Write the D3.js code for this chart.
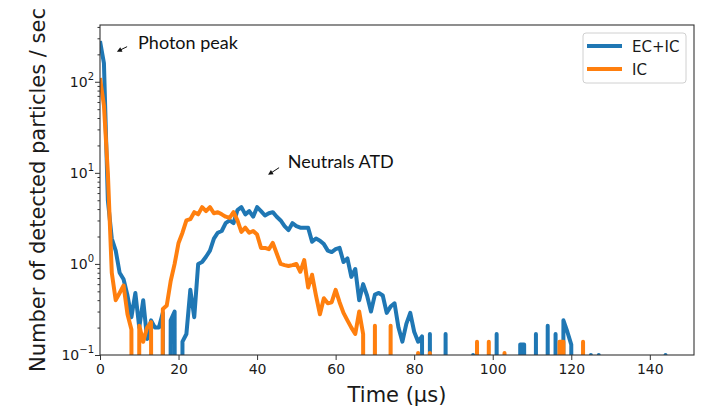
<!DOCTYPE html>
<html>
<head>
<meta charset="utf-8">
<script src="https://cdn.jsdelivr.net/npm/d3@7"></script>
<style>
  body { margin: 0; background: #fff; }
  svg { display: block; }
  .tick text { font-family: "DejaVu Sans", sans-serif; font-size: 14px; fill: #1a1a1a; }
  .axis path, .axis line { stroke: #333; }
</style>
</head>
<body>
<div class="graph-container"></div>
<script>
// time bins (µs): first bin and bin width
var binStart = 0;
var binWidth = 1;

// counts per second, one value per 1 µs bin (0 = nothing detected)
var ecIc = [
    280, 160, 5, 1.9, 1.4, 0.8, 0.68, 0.45, 0.26, 0.48,
    0.2, 0.4, 0.15, 0.24, 0.2, 0.2, 0.29, 0, 0.24, 0.3,
    0, 0.14, 0.17, 0.52, 0.26, 1.0, 1.05, 1.2, 1.4, 1.9,
    2.2, 2.3, 2.8, 3.0, 2.8, 3.9, 4.2, 3.5, 3.8, 3.3,
    4.2, 3.8, 3.4, 3.6, 3.7, 3.3, 3.0, 2.6, 2.35, 2.8,
    2.6, 2.5, 2.5, 2.5, 1.75, 1.9, 1.8, 1.65, 1.4, 1.35,
    1.45, 1.5, 1.05, 1.15, 0.72, 0.88, 0.4, 0.6, 0.45, 0.3,
    0.46, 0.48, 0.45, 0.29, 0.34, 0.37, 0.2, 0.14, 0.22, 0.29,
    0.18, 0.14, 0.16, 0, 0.17, 0, 0, 0, 0.17, 0,
    0, 0, 0, 0, 0, 0.1, 0, 0, 0, 0,
    0, 0.17, 0, 0, 0, 0, 0, 0.13, 0.13, 0,
    0, 0.17, 0, 0, 0.21, 0, 0.17, 0, 0.24, 0.18,
    0.13, 0, 0, 0, 0, 0.1, 0, 0.1, 0, 0,
    0, 0, 0, 0, 0, 0, 0, 0, 0, 0,
    0, 0, 0, 0, 0.1, 0
];
var ic = [
    110, 55, 10, 0.8, 0.4, 0.48, 0.58, 0.28, 0.19, 0,
    0.21, 0.14, 0.2, 0.23, 0, 0, 0.32, 0.35, 0.65, 1.0,
    1.7, 2.2, 3.0, 3.1, 3.7, 3.5, 4.2, 3.8, 4.2, 3.6,
    3.7, 3.5, 3.3, 3.2, 3.7, 3.0, 2.25, 2.5, 2.2, 2.3,
    2.1, 1.5, 1.5, 1.45, 1.7, 1.3, 1.0, 0.97, 0.95, 0.97,
    1.0, 0.82, 1.1, 0.55, 0.76, 0.45, 0.28, 0.42, 0.37, 0.38,
    0.52, 0.38, 0.29, 0.24, 0.2, 0.17, 0.3, 0.17, 0, 0,
    0.21, 0, 0, 0, 0.21, 0, 0, 0, 0, 0,
    0, 0.105, 0, 0, 0.105, 0, 0, 0, 0, 0,
    0, 0, 0, 0, 0, 0, 0.14, 0, 0, 0.14,
    0, 0, 0, 0.105, 0, 0, 0, 0, 0, 0,
    0, 0, 0, 0, 0, 0, 0, 0.14, 0.14, 0,
    0, 0, 0, 0.14, 0, 0, 0, 0, 0, 0,
    0, 0, 0, 0, 0, 0, 0, 0, 0, 0,
    0, 0, 0, 0, 0, 0
];
var seriesNames = ['EC+IC', 'IC'];
var seriesColors = ['#1f77b4', '#ff7f0e'];

var xTicks = [0, 20, 40, 60, 80, 100, 120, 140];
var yTickExps = [-1, 0, 1, 2];

var svgWidth = 705;
var svgHeight = 407;
var plotLeft = 100, plotRight = 694, plotTop = 25, plotBottom = 355;

var xScale = d3.scaleLinear().domain([0, 151.25]).range([plotLeft, plotRight]);
var yScale = d3.scaleLog().domain([0.1, 420]).range([plotBottom, plotTop]);

var svg = d3.select('.graph-container').append('svg')
    .attr('width', svgWidth)
    .attr('height', svgHeight);

svg.append('defs').append('clipPath')
    .attr('id', 'plot-clip')
    .append('rect')
    .attr('x', plotLeft).attr('y', plotTop)
    .attr('width', plotRight - plotLeft)
    .attr('height', plotBottom - plotTop);

// zero counts go far below the axis, like matplotlib's log clipping
var line = d3.line()
    .x(function(d, i) { return xScale(binStart + i * binWidth); })
    .y(function(d) { return yScale(d > 0 ? d : 1e-30); })
    .curve(d3.curveLinear);

var lines = svg.append('g').attr('clip-path', 'url(#plot-clip)');
[ecIc, ic].forEach(function(values, k) {
    lines.append('path')
        .datum(values)
        .attr('d', line)
        .attr('fill', 'none')
        .attr('stroke', seriesColors[k])
        .attr('stroke-width', 4)
        .attr('stroke-linejoin', 'round');
});

// x axis
var xAxis = d3.axisBottom(xScale).tickValues(xTicks).tickSize(5).tickSizeOuter(0).tickPadding(4);
svg.append('g')
    .attr('class', 'axis')
    .attr('transform', 'translate(0,' + plotBottom + ')')
    .call(xAxis)
    .call(function(g) { g.select('.domain').remove(); });

// y axis: minor ticks then major ticks with 10^n labels
var minors = [];
yTickExps.concat([3]).forEach(function(e) {
    for (var m = 2; m <= 9; m++) {
        var v = m * Math.pow(10, e - 1);
        if (v > 0.1 && v < 420) minors.push(v);
    }
});
svg.append('g')
    .attr('class', 'axis')
    .attr('transform', 'translate(' + plotLeft + ',0)')
    .call(d3.axisLeft(yScale).tickValues(minors).tickSize(2.5).tickFormat(''))
    .call(function(g) { g.select('.domain').remove(); });

svg.append('g')
    .attr('class', 'axis')
    .attr('transform', 'translate(' + plotLeft + ',0)')
    .call(d3.axisLeft(yScale).tickValues(yTickExps.map(function(e) { return Math.pow(10, e); }))
        .tickSize(5).tickFormat(''))
    .call(function(g) { g.select('.domain').remove(); });

yTickExps.forEach(function(e) {
    var t = svg.append('text')
        .attr('x', plotLeft - 6)
        .attr('y', yScale(Math.pow(10, e)) + 5)
        .attr('text-anchor', 'end')
        .style('font-family', '"DejaVu Sans", sans-serif')
        .style('font-size', '14px')
        .style('fill', '#1a1a1a');
    t.append('tspan').text('10');
    t.append('tspan')
        .attr('dy', -7)
        .style('font-size', '10px')
        .text(e < 0 ? '\u2212' + (-e) : String(e));
});

// frame
svg.append('rect')
    .attr('x', plotLeft).attr('y', plotTop)
    .attr('width', plotRight - plotLeft)
    .attr('height', plotBottom - plotTop)
    .attr('fill', 'none')
    .attr('stroke', '#333')
    .attr('stroke-width', 1.1);

// axis labels
svg.append('text')
    .attr('x', (plotLeft + plotRight) / 2)
    .attr('y', 402)
    .style('text-anchor', 'middle')
    .style('font-family', '"DejaVu Sans", sans-serif')
    .style('font-size', '21px')
    .style('fill', '#1a1a1a')
    .text('Time (\u00b5s)');

svg.append('text')
    .attr('x', 0 - (plotTop + plotBottom) / 2)
    .attr('y', 45)
    .style('text-anchor', 'middle')
    .style('font-family', '"DejaVu Sans", sans-serif')
    .style('font-size', '21px')
    .style('fill', '#1a1a1a')
    .attr('transform', 'rotate(-90)')
    .text('Number of detected particles / sec');

// legend
var legend = svg.append('g');
legend.append('rect')
    .attr('x', 583).attr('y', 33)
    .attr('width', 103).attr('height', 50)
    .attr('rx', 3)
    .attr('fill', 'rgba(255,255,255,0.8)')
    .attr('stroke', '#d0d0d0');
seriesNames.forEach(function(name, k) {
    var ly = 46 + k * 23;
    legend.append('line')
        .attr('x1', 587).attr('x2', 622)
        .attr('y1', ly).attr('y2', ly)
        .attr('stroke', seriesColors[k])
        .attr('stroke-width', 4);
    legend.append('text')
        .attr('x', 632).attr('y', ly + 6)
        .style('font-family', '"DejaVu Sans", sans-serif')
        .style('font-size', '15px')
        .style('fill', '#1a1a1a')
        .text(name);
});

// annotations
var notes = [
    { text: 'Photon peak', tx: 9.7, ty: 228, from: [6.9, 243], to: [4.3, 214] },
    { text: 'Neutrals ATD', tx: 47.8, ty: 11.4, from: [45.6, 11.4], to: [42.8, 9.5] }
];
notes.forEach(function(n) {
    svg.append('text')
        .attr('x', xScale(n.tx))
        .attr('y', yScale(n.ty))
        .style('font-family', 'Lato, sans-serif')
        .style('font-size', '18px')
        .style('fill', '#111')
        .text(n.text);
    var x1 = xScale(n.from[0]), y1 = yScale(n.from[1]);
    var x2 = xScale(n.to[0]), y2 = yScale(n.to[1]);
    var ang = Math.atan2(y2 - y1, x2 - x1);
    svg.append('line')
        .attr('x1', x1).attr('y1', y1)
        .attr('x2', x2 - 3 * Math.cos(ang)).attr('y2', y2 - 3 * Math.sin(ang))
        .attr('stroke', '#111')
        .attr('stroke-width', 1);
    var hl = 5, hw = 2.5;
    var bx = x2 - hl * Math.cos(ang), by = y2 - hl * Math.sin(ang);
    svg.append('path')
        .attr('d', 'M' + x2 + ',' + y2 +
            'L' + (bx + hw * Math.sin(ang)) + ',' + (by - hw * Math.cos(ang)) +
            'L' + (bx - hw * Math.sin(ang)) + ',' + (by + hw * Math.cos(ang)) + 'Z')
        .attr('fill', '#111');
});
</script>
</body>
</html>
